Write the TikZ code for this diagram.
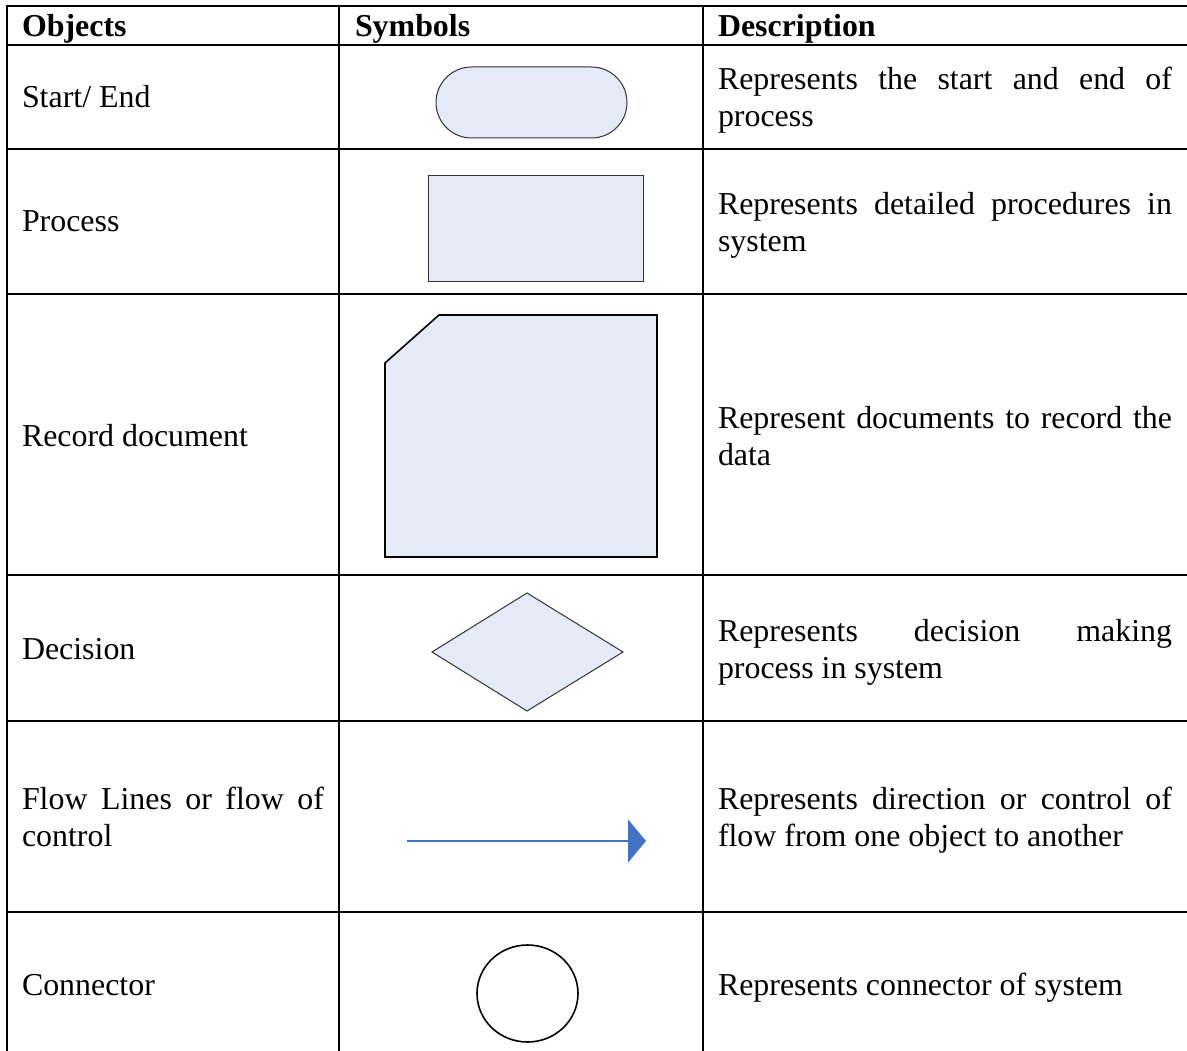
\documentclass[tikz,border=0pt]{standalone}
\usepackage{fontspec}
\setmainfont{Liberation Serif}
\usetikzlibrary{arrows.meta,shapes.misc,shapes.geometric}
\definecolor{symblue}{RGB}{228,235,246}
\definecolor{flowblue}{RGB}{68,114,196}

\begin{document}
\begin{tikzpicture}[x=1pt,y=-1pt,
  rule/.style={line width=2pt, line cap=rect},
  cell/.style={anchor=base west, inner sep=0pt, outer sep=0pt,
    font=\fontsize{31.9}{37}\selectfont},
  headcell/.style={cell, font=\fontsize{31.9}{37}\selectfont\bfseries},
  symbox/.style={fill=symblue, draw=black!80, line width=1pt}]
\useasboundingbox (0,0) rectangle (1187,1051);

% ---- table rules ----
\foreach \y in {6,45,149,294,575,721,912}
  \draw[rule] (7,\y) -- (1190,\y);
\foreach \x in {7,339,703}
  \draw[rule] (\x,6) -- (\x,1055);

% ---- header ----
\node[headcell] (hobj) at (22,37) {Objects};
\node[headcell] (hsym) at (355,37) {Symbols};
\node[headcell] (hdes) at (718,37) {Description};

% ---- object names ----
\node[cell] (o1) at (22,108) {Start/ End};
\node[cell] (o2) at (22,232) {Process};
\node[cell] (o3) at (22,446) {Record document};
\node[cell] (o4) at (22,659) {Decision};
\node[cell] (o5a) at (22,809) {\makebox[302pt][s]{Flow Lines or flow of}};
\node[cell] (o5b) at (22,846) {control};
\node[cell] (o6) at (22,995) {Connector};

% ---- descriptions ----
\node[cell] (d1a) at (718,90) {\makebox[454pt][s]{Represents the start and end of}};
\node[cell] (d1b) at (718,127) {process};
\node[cell] (d2a) at (718,215) {\makebox[454pt][s]{Represents detailed procedures in}};
\node[cell] (d2b) at (718,252) {system};
\node[cell] (d3a) at (718,428) {\makebox[454pt][s]{Represent documents to record the}};
\node[cell] (d3b) at (718,465) {data};
\node[cell] (d4a) at (718,641) {\makebox[454pt][s]{Represents decision making}};
\node[cell] (d4b) at (718,678) {process in system};
\node[cell] (d5a) at (718,809) {\makebox[454pt][s]{Represents direction or control of}};
\node[cell] (d5b) at (718,846) {flow from one object to another};
\node[cell] (d6) at (718,995) {Represents connector of system};

% ---- symbols ----
% terminator
\node[symbox, rounded rectangle, minimum width=191pt, minimum height=71pt,
  inner sep=0pt] (term) at (531.5,102.5) {};
% process box
\node[symbox, rectangle, minimum width=215pt, minimum height=106pt,
  inner sep=0pt] (proc) at (535.5,229) {};
% record document: rectangle with the top-left corner cut off
\draw[fill=symblue, draw=black, line width=1.6pt, line join=miter]
  (439,315) -- (657,315) -- (657,557) -- (385,557) -- (385,363) -- cycle;
\coordinate (rec) at (521,436);
% decision diamond
\draw[symbox, line join=miter]
  (527,593) -- (623,652) -- (527,711) -- (432,652) -- cycle;
\coordinate (dec) at (527,652);
% flow line
\coordinate (fstart) at (407,841);
\coordinate (fend) at (646,841);
\draw[flowblue, line width=2pt, -{Triangle[length=18pt,width=43pt]}]
  (fstart) -- (fend);
% connector circle
\node[draw=black, line width=1.6pt, ellipse, minimum width=101pt,
  minimum height=97pt, inner sep=0pt] (conn) at (527.5,993.5) {};
\end{tikzpicture}
\end{document}
